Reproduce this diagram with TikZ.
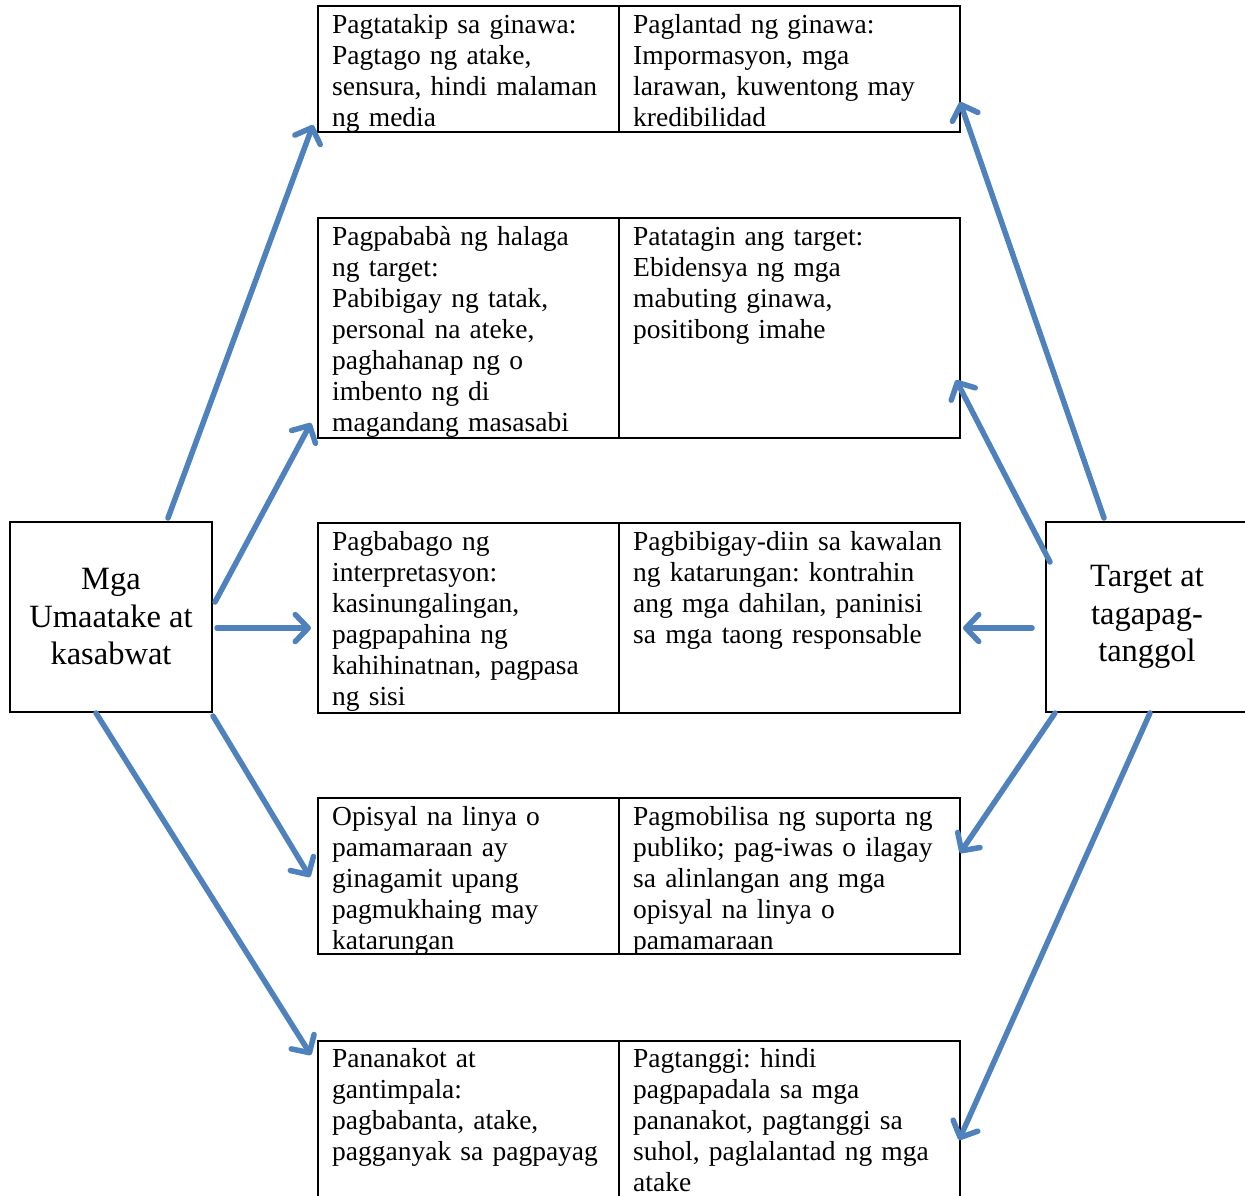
\documentclass[tikz,border=0pt]{standalone}
\usepackage{fontspec}
\setmainfont{Liberation Serif}
\usetikzlibrary{arrows.meta,calc}
\definecolor{arrowblue}{HTML}{4F81BD}
\frenchspacing
\tikzset{
  cell/.style={draw, line width=1.8pt, inner sep=0pt, anchor=north west},
  txt/.style={anchor=base west, inner sep=0pt, align=left, text width=330pt,
    font=\fontsize{27.5}{31}\selectfont},
  bigbox/.style={draw, line width=1.8pt, inner sep=0pt, minimum width=202pt,
    minimum height=190pt, align=center, font=\fontsize{32.5}{37.5}\selectfont},
  link/.style={draw=arrowblue, line width=5.5pt, line cap=round, line join=round,
    -{Straight Barb[length=13pt,width=27pt,line cap=round,line join=round]}},
}
\begin{document}
\begin{tikzpicture}[x=1pt,y=-1pt]
\useasboundingbox (0,0) rectangle (1245,1195);
\clip (0,0) rectangle (1245,1195);
% table cells
\node[cell, minimum width=301pt, minimum height=126pt] (c1l) at (317,5) {};
\node[cell, minimum width=341pt, minimum height=126pt] (c1r) at (618,5) {};
\node[cell, minimum width=301pt, minimum height=220pt] (c2l) at (317,217) {};
\node[cell, minimum width=341pt, minimum height=220pt] (c2r) at (618,217) {};
\node[cell, minimum width=301pt, minimum height=190pt] (c3l) at (317,522) {};
\node[cell, minimum width=341pt, minimum height=190pt] (c3r) at (618,522) {};
\node[cell, minimum width=301pt, minimum height=156pt] (c4l) at (317,797) {};
\node[cell, minimum width=341pt, minimum height=156pt] (c4r) at (618,797) {};
\node[cell, minimum width=301pt, minimum height=190pt] (c5l) at (317,1040) {};
\node[cell, minimum width=341pt, minimum height=190pt] (c5r) at (618,1040) {};
% texts
\node[txt] (t1l) at (332,33) {Pagtatakip sa ginawa:\\Pagtago ng atake,\\sensura, hindi malaman\\ng media};
\node[txt] (t1r) at (633,33) {Paglantad ng ginawa:\\Impormasyon, mga\\larawan, kuwentong may\\kredibilidad};
\node[txt] (t2l) at (332,245) {Pagpababà ng halaga\\ng target:\\Pabibigay ng tatak,\\personal na ateke,\\paghahanap ng o\\imbento ng di\\magandang masasabi};
\node[txt] (t2r) at (633,245) {Patatagin ang target:\\Ebidensya ng mga\\mabuting ginawa,\\positibong imahe};
\node[txt] (t3l) at (332,550) {Pagbabago ng\\interpretasyon:\\kasinungalingan,\\pagpapahina ng\\kahihinatnan, pagpasa\\ng sisi};
\node[txt] (t3r) at (633,550) {Pagbibigay-diin sa kawalan\\ng katarungan: kontrahin\\ang mga dahilan, paninisi\\sa mga taong responsable};
\node[txt] (t4l) at (332,825) {Opisyal na linya o\\pamamaraan ay\\ginagamit upang\\pagmukhaing may\\katarungan};
\node[txt] (t4r) at (633,825) {Pagmobilisa ng suporta ng\\publiko; pag-iwas o ilagay\\sa alinlangan ang mga\\opisyal na linya o\\pamamaraan};
\node[txt] (t5l) at (332,1067) {Pananakot at\\gantimpala:\\pagbabanta, atake,\\pagganyak sa pagpayag};
\node[txt] (t5r) at (633,1067) {Pagtanggi: hindi\\pagpapadala sa mga\\pananakot, pagtanggi sa\\suhol, paglalantad ng mga\\atake};
% side boxes
\node[bigbox] (att) at (111,617) {Mga\\Umaatake at\\kasabwat};
\node[bigbox] (tgt) at (1147,617) {Target at\\tagapag-\\tanggol};
% arrow ends
\coordinate (l1s) at (168,518); \coordinate (l1e) at (313,125);
\coordinate (l2s) at (215,602); \coordinate (l2e) at (311,423);
\coordinate (l3s) at (217,628); \coordinate (l3e) at (311,628);
\coordinate (l4s) at (213,716); \coordinate (l4e) at (310,877);
\coordinate (l5s) at (96,713);  \coordinate (l5e) at (311,1055);
\coordinate (r1s) at (1104,518); \coordinate (r1e) at (960,102);
\coordinate (r2s) at (1050,562); \coordinate (r2e) at (956,380);
\coordinate (r3s) at (1032,628); \coordinate (r3e) at (963,628);
\coordinate (r4s) at (1055,713); \coordinate (r4e) at (960,853);
\coordinate (r5s) at (1150,713); \coordinate (r5e) at (959,1140);
\foreach \a in {l1,l2,l3,l4,l5,r1,r2,r3,r4,r5}{
  \draw[link] (\a s) -- (\a e);
}
\end{tikzpicture}
\end{document}
